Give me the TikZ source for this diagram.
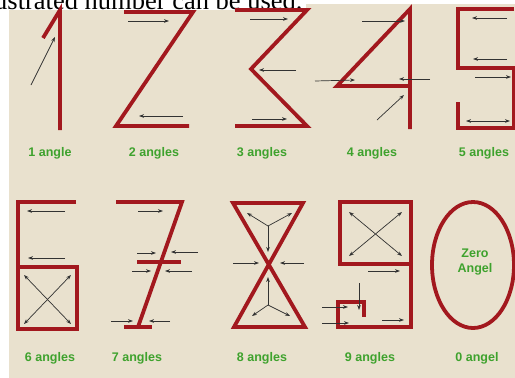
\documentclass[tikz,border=0pt]{standalone}
\usepackage{fontspec}
\setmainfont{Liberation Serif}
\newfontfamily\lblfont{Liberation Sans}
\usetikzlibrary{arrows.meta}
\definecolor{dred}{RGB}{162,24,30}
\definecolor{lgreen}{RGB}{62,162,45}
\definecolor{beige}{RGB}{233,225,206}
\definecolor{agray}{RGB}{50,50,50}
\tikzset{
  digit/.style={draw=dred, line width=3.8pt, line join=miter, miter limit=4},
  arr/.style={draw=agray, line width=0.7pt, -{Stealth[length=5pt,width=3.6pt]}},
  darr/.style={draw=agray, line width=0.7pt, {Stealth[length=5pt,width=3.6pt]}-{Stealth[length=5pt,width=3.6pt]}},
  lbl/.style={text=lgreen, font=\lblfont\bfseries\fontsize{12.5}{14}\selectfont, inner sep=0pt}
}
\begin{document}
\begin{tikzpicture}[x=1pt,y=-1pt]
\useasboundingbox (0,0) rectangle (515,378);
\fill[white] (0,0) rectangle (515,378);
\fill[beige] (9,4) rectangle (515,378);
\fill[white] (0,0) rectangle (306,10);
\node[anchor=base west, inner sep=0pt, font=\fontsize{26.5}{30}\selectfont] (hdr) at (-6,9) {ustrated number can be used.};
% 1
\draw[digit] (43,38) -- (60,10) -- (60,130);
\draw[arr] (31,85) -- (55,37);
% 2
\draw[digit] (124,12) -- (193,12) -- (116,126) -- (189,126);
\draw[arr] (128,21) -- (169,21);
\draw[arr] (183,116) -- (139,116);
% 3
\draw[digit] (235,10) -- (307,10) -- (251,69) -- (307,126) -- (235,126);
\draw[arr] (250,19) -- (288,19);
\draw[arr] (296,70) -- (259,70);
\draw[arr] (252,119) -- (287,119);
% 4
\draw[digit] (410,129) -- (410,9) -- (337,86) -- (410,86);
\draw[arr] (362,21) -- (405,21);
\draw[arr] (315,81) -- (355,80);
\draw[arr] (430,79) -- (399,79);
\draw[arr] (377,120) -- (404,95);
% 5
\draw[digit] (514,9) -- (458,9) -- (458,68) -- (514,68) -- (514,128) -- (458,128) -- (458,102);
\draw[arr] (507,18) -- (472,18);
\draw[arr] (507,59) -- (473,59);
\draw[arr] (475,77) -- (511,77);
\draw[darr] (466,121) -- (510,121);
% 6
\draw[digit] (76,202) -- (18,202) -- (18,329) -- (77,329) -- (77,267) -- (18,267);
\draw[arr] (65,211) -- (27,211);
\draw[arr] (65,258) -- (28,258);
\draw[darr] (24,275) -- (71,324);
\draw[darr] (71,275) -- (24,324);
% 7
\draw[digit] (116,202) -- (182,202) -- (138,327);
\draw[digit] (124,327) -- (152,327);
\draw[digit] (137,262) -- (181,262);
\draw[arr] (138,211) -- (163,211);
\draw[arr] (137,253) -- (156,253);
\draw[arr] (198,252) -- (171,252);
\draw[arr] (132,271) -- (151,271);
\draw[arr] (192,271) -- (165,271);
\draw[arr] (111,321) -- (133,321);
\draw[arr] (170,321) -- (149,321);
% 8
\draw[digit] (233,203) -- (303,203) -- (234,327) -- (305,327) -- cycle;
\draw[arr] (268,226) -- (247,213);
\draw[arr] (268,226) -- (292,213);
\draw[arr] (268,226) -- (268,252);
\draw[arr] (233,263) -- (259,263);
\draw[arr] (304,263) -- (280,263);
\draw[arr] (268,305) -- (268,277);
\draw[arr] (268,305) -- (252,316);
\draw[arr] (268,305) -- (290,316);
% 9
\draw[digit] (411,264) -- (340,264) -- (340,202) -- (411,202) -- (411,327) -- (338,327) -- (338,302) -- (364,302) -- (364,317);
\draw[darr] (349,212) -- (402,256);
\draw[darr] (402,212) -- (349,256);
\draw[arr] (368,271) -- (400,271);
\draw[arr] (359,283) -- (359,310);
\draw[arr] (322,307) -- (348,307);
\draw[arr] (322,323) -- (349,323);
\draw[arr] (382,320) -- (404,320);
% 0
\draw[dred, line width=3.8pt] (473,265) ellipse [x radius=41, y radius=63];
\node[lbl] (zero) at (475,253) {Zero};
\node[lbl] (angel) at (475,269) {Angel};
% labels
\node[lbl] (l1) at (50,153) {1 angle};
\node[lbl] (l2) at (154,153) {2 angles};
\node[lbl] (l3) at (262,153) {3 angles};
\node[lbl] (l4) at (372,153) {4 angles};
\node[lbl] (l5) at (484,153) {5 angles};
\node[lbl] (l6) at (50,358) {6 angles};
\node[lbl] (l7) at (137,358) {7 angles};
\node[lbl] (l8) at (262,358) {8 angles};
\node[lbl] (l9) at (370,358) {9 angles};
\node[lbl] (l0) at (477,358) {0 angel};
\end{tikzpicture}
\end{document}
